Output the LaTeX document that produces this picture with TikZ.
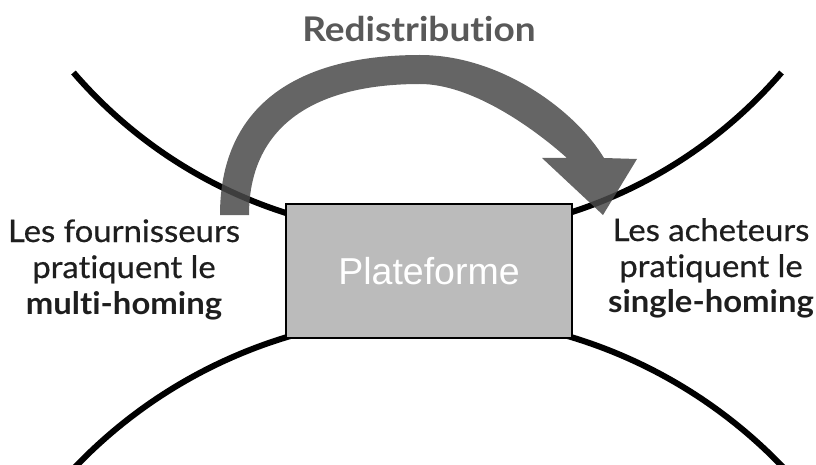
\documentclass[tikz,border=0pt]{standalone}
\usepackage{fontspec}
\setmainfont{Lato}[Ligatures=NoCommon, FakeStretch=1.06]
\newfontfamily\lblfont{Lato}[Ligatures=NoCommon, FakeStretch=1.06, FakeBold=0.5, BoldFeatures={FakeBold=0}]
\newfontfamily\titlefont{Lato}[Ligatures=NoCommon, FakeStretch=1.09]
\newfontfamily\boxfont{Liberation Sans}
\definecolor{arrowgray}{HTML}{4A4A4A}
\definecolor{boxgray}{HTML}{BBBBBB}
\definecolor{titlegray}{HTML}{595959}
\definecolor{labelblack}{HTML}{1E1E1E}
\tikzset{
  curve/.style={line width=6pt, black},
  platbox/.style={draw=black, line width=2pt, fill=boxgray, minimum width=286pt, minimum height=134pt, inner sep=0pt, text=white, font=\boxfont\fontsize{37.5}{40}\selectfont},
  lbl/.style={anchor=base, inner sep=0pt, text=labelblack, font=\lblfont\fontsize{31}{36}\selectfont},
  title/.style={anchor=base, inner sep=0pt, text=titlegray, font=\titlefont\bfseries\fontsize{34}{36}\selectfont},
  bigarrow/.style={fill=arrowgray, fill opacity=0.85, draw=none}
}
\begin{document}
\begin{tikzpicture}[x=1pt,y=-1pt]
\useasboundingbox (0,0) rectangle (816,465);
% curves
\coordinate (ctop) at (427.5,-232);
\coordinate (cbot) at (429,806);
\draw[curve] ([shift={(139.3:467)}]ctop) arc[start angle=139.3, end angle=40.7, radius=467];
\draw[curve] ([shift={(222:490)}]cbot) arc[start angle=222, end angle=318, radius=490];
% platform
\node[platbox] (plat) at (429,271) {Plateforme};
% arrow
\path[bigarrow] (220,215) .. controls (220,111) and (290,55) .. (420,55)
  .. controls (500,55) and (575,110) .. (604,158)
  -- (637,159) -- (603,215) -- (542,158) -- (567,158)
  .. controls (530,125) and (470,84) .. (420,84)
  .. controls (309,84) and (249,130) .. (249,215)
  -- cycle;
% texts
\node[title] (redis) at (419,42) {Redistribution};
\node[lbl] (l1) at (124,242) {Les fournisseurs};
\node[lbl] (l2) at (124,278) {pratiquent le};
\node[lbl] (l3) at (124,314) {\bfseries multi-homing};
\node[lbl] (r1) at (711,241) {Les acheteurs};
\node[lbl] (r2) at (711,277) {pratiquent le};
\node[lbl] (r3) at (711,312) {\bfseries single-homing};
\end{tikzpicture}
\end{document}
